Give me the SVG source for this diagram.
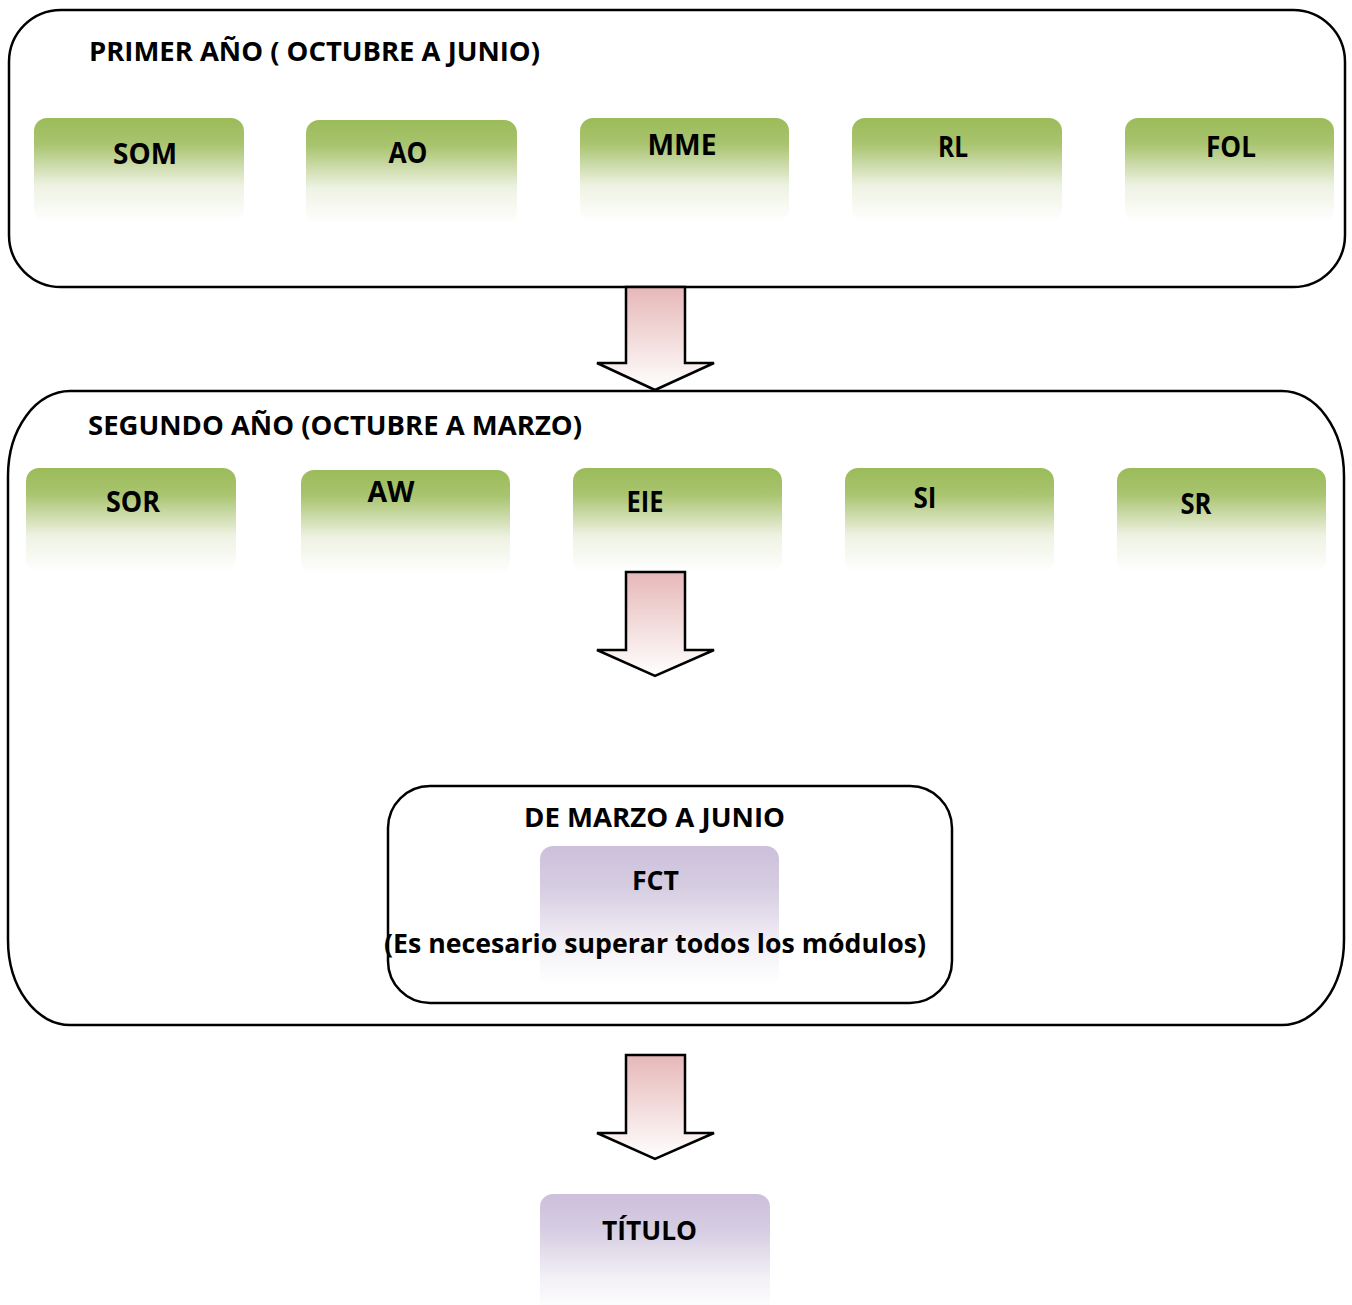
<svg xmlns="http://www.w3.org/2000/svg" width="1352" height="1305" viewBox="0 0 1352 1305">
<defs>
<linearGradient id="gGreen" x1="0" y1="0" x2="0" y2="1">
<stop offset="0" stop-color="#9bbb59"/>
<stop offset="0.25" stop-color="#a9c46f"/>
<stop offset="0.65" stop-color="#eef2e3"/>
<stop offset="1" stop-color="#ffffff"/>
</linearGradient>
<linearGradient id="gPurple" x1="0" y1="0" x2="0" y2="1">
<stop offset="0" stop-color="#ccc0da"/>
<stop offset="0.3" stop-color="#d6cde2"/>
<stop offset="0.7" stop-color="#f3f0f6"/>
<stop offset="1" stop-color="#ffffff"/>
</linearGradient>
<linearGradient id="gPink" x1="0" y1="0" x2="0" y2="1">
<stop offset="0" stop-color="#e6b8b7"/>
<stop offset="1" stop-color="#ffffff"/>
</linearGradient>
<style>
.frame{fill:#ffffff;stroke:#000000;stroke-width:2.5}
.mod{fill:url(#gGreen);stroke:none}
.fct{fill:url(#gPurple);stroke:none}
.arrow{fill:url(#gPink);stroke:#000000;stroke-width:2.5;stroke-linejoin:miter}
text{font-family:"Open Sans","Liberation Sans",sans-serif;font-weight:700;fill:#000000}
.t{font-size:27px}
.m{font-size:29px;text-anchor:middle}
</style>
</defs>

<g id="year1">
<rect class="frame" x="9" y="10" width="1336" height="277" rx="52" ry="52"/>
<text class="t" x="89" y="61" textLength="451" lengthAdjust="spacingAndGlyphs">PRIMER AÑO ( OCTUBRE A JUNIO)</text>
</g>
<g id="SOM"><rect class="mod" x="34" y="118" width="210" height="104" rx="13"/><text class="m" x="145" y="164" textLength="64" lengthAdjust="spacingAndGlyphs">SOM</text></g>
<g id="AO"><rect class="mod" x="306" y="120" width="211" height="104" rx="13"/><text class="m" x="408" y="163" textLength="39" lengthAdjust="spacingAndGlyphs">AO</text></g>
<g id="MME"><rect class="mod" x="580" y="118" width="209" height="104" rx="13"/><text class="m" x="682" y="155" textLength="69" lengthAdjust="spacingAndGlyphs">MME</text></g>
<g id="RL"><rect class="mod" x="852" y="118" width="210" height="104" rx="13"/><text class="m" x="953" y="157" textLength="30" lengthAdjust="spacingAndGlyphs">RL</text></g>
<g id="FOL"><rect class="mod" x="1125" y="118" width="209" height="104" rx="13"/><text class="m" x="1231" y="157" textLength="50" lengthAdjust="spacingAndGlyphs">FOL</text></g>

<g id="year2">
<rect class="frame" x="8" y="391" width="1336" height="634" rx="62" ry="85"/>
<text class="t" x="88" y="435" textLength="494" lengthAdjust="spacingAndGlyphs">SEGUNDO AÑO (OCTUBRE A MARZO)</text>
</g>
<g id="SOR"><rect class="mod" x="26" y="468" width="210" height="104" rx="13"/><text class="m" x="133" y="512" textLength="54" lengthAdjust="spacingAndGlyphs">SOR</text></g>
<g id="AW"><rect class="mod" x="301" y="470" width="209" height="104" rx="13"/><text class="m" x="391" y="502" textLength="47" lengthAdjust="spacingAndGlyphs">AW</text></g>
<g id="EIE"><rect class="mod" x="573" y="468" width="209" height="104" rx="13"/><text class="m" x="645" y="512" textLength="37" lengthAdjust="spacingAndGlyphs">EIE</text></g>
<g id="SI"><rect class="mod" x="845" y="468" width="209" height="104" rx="13"/><text class="m" x="925" y="508" textLength="23" lengthAdjust="spacingAndGlyphs">SI</text></g>
<g id="SR"><rect class="mod" x="1117" y="468" width="209" height="104" rx="13"/><text class="m" x="1196" y="514" textLength="31" lengthAdjust="spacingAndGlyphs">SR</text></g>

<g id="marzojunio">
<rect class="frame" x="388" y="786" width="564" height="217" rx="42" ry="42"/>
<rect class="fct" x="540" y="846" width="239" height="140" rx="13"/>
<text class="t" x="524" y="827" textLength="261" lengthAdjust="spacingAndGlyphs">DE MARZO A JUNIO</text>
<text class="t" x="632" y="890" textLength="47" lengthAdjust="spacingAndGlyphs">FCT</text>
<text class="t" x="384" y="953" textLength="542" lengthAdjust="spacingAndGlyphs">(Es necesario superar todos los módulos)</text>
</g>

<g id="titulo">
<rect class="fct" x="540" y="1194" width="230" height="120" rx="13"/>
<text class="t" x="602" y="1240" textLength="95" lengthAdjust="spacingAndGlyphs">TÍTULO</text>
</g>

<g id="connectors">
<path class="arrow" d="M626,287 L685,287 L685,363 L714,363 L655,390 L597,363 L626,363 Z"/>
<path class="arrow" d="M626,572 L685,572 L685,650 L714,650 L655,676 L597,650 L626,650 Z"/>
<path class="arrow" d="M626,1055 L685,1055 L685,1133 L714,1133 L655,1159 L597,1133 L626,1133 Z"/>
</g>
</svg>
